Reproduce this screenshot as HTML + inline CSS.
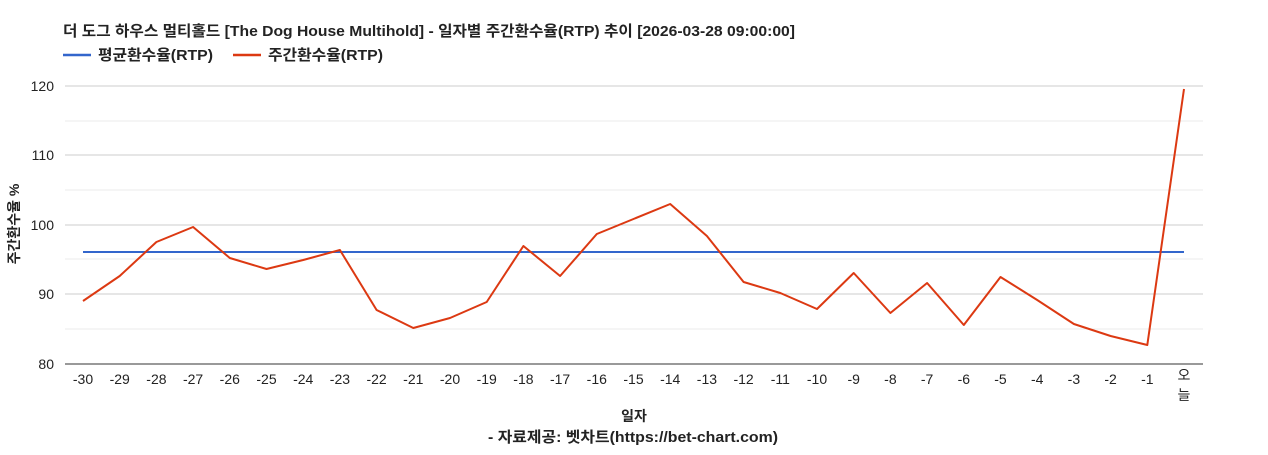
<!DOCTYPE html>
<html><head><meta charset="utf-8"><style>
body{margin:0;background:#fff;}
svg text{font-family:"Liberation Sans","Noto Sans CJK KR",sans-serif;}
</style></head><body>
<svg width="1268" height="450" xmlns="http://www.w3.org/2000/svg">
<rect width="1268" height="450" fill="#fff"/>
<text x="63" y="36" font-size="15" font-weight="bold" fill="#222" textLength="732" lengthAdjust="spacingAndGlyphs">더 도그 하우스 멀티홀드 [The Dog House Multihold] - 일자별 주간환수율(RTP) 추이 [2026-03-28 09:00:00]</text>
<line x1="63" y1="55" x2="91" y2="55" stroke="#3366cc" stroke-width="2.5"/>
<text x="98" y="60" font-size="15" font-weight="bold" fill="#222" textLength="115" lengthAdjust="spacingAndGlyphs">평균환수율(RTP)</text>
<line x1="233" y1="55" x2="261" y2="55" stroke="#dc3912" stroke-width="2.5"/>
<text x="268" y="60" font-size="15" font-weight="bold" fill="#222" textLength="115" lengthAdjust="spacingAndGlyphs">주간환수율(RTP)</text>
<g stroke="#ebebeb" stroke-width="1">
<line x1="65" y1="121" x2="1203" y2="121"/><line x1="65" y1="190" x2="1203" y2="190"/><line x1="65" y1="259" x2="1203" y2="259"/><line x1="65" y1="329" x2="1203" y2="329"/>
</g>
<g stroke="#cccccc" stroke-width="1">
<line x1="65" y1="86" x2="1203" y2="86"/><line x1="65" y1="155" x2="1203" y2="155"/><line x1="65" y1="225" x2="1203" y2="225"/><line x1="65" y1="294" x2="1203" y2="294"/>
</g>
<line x1="65" y1="364" x2="1203" y2="364" stroke="#333" stroke-width="1"/>
<g font-size="14" fill="#222" text-anchor="end">
<text x="54" y="91">120</text><text x="54" y="160">110</text><text x="54" y="230">100</text><text x="54" y="299">90</text><text x="54" y="369">80</text>
</g>
<text transform="translate(19,224) rotate(-90)" font-size="14" font-weight="bold" fill="#222" text-anchor="middle">주간환수율 %</text>
<g font-size="14" fill="#222" text-anchor="middle">
<text x="83" y="384">-30</text><text x="119.7" y="384">-29</text><text x="156.4" y="384">-28</text><text x="193.1" y="384">-27</text><text x="229.8" y="384">-26</text><text x="266.5" y="384">-25</text><text x="303.2" y="384">-24</text><text x="339.9" y="384">-23</text><text x="376.6" y="384">-22</text><text x="413.3" y="384">-21</text><text x="450" y="384">-20</text><text x="486.7" y="384">-19</text><text x="523.4" y="384">-18</text><text x="560.1" y="384">-17</text><text x="596.8" y="384">-16</text><text x="633.5" y="384">-15</text><text x="670.2" y="384">-14</text><text x="706.9" y="384">-13</text><text x="743.6" y="384">-12</text><text x="780.3" y="384">-11</text><text x="817" y="384">-10</text><text x="853.7" y="384">-9</text><text x="890.4" y="384">-8</text><text x="927.1" y="384">-7</text><text x="963.8" y="384">-6</text><text x="1000.5" y="384">-5</text><text x="1037.2" y="384">-4</text><text x="1073.9" y="384">-3</text><text x="1110.6" y="384">-2</text><text x="1147.3" y="384">-1</text>
<text x="1184" y="380">오</text><text x="1184" y="400">늘</text>
</g>
<text x="634" y="421" font-size="14" font-weight="bold" fill="#222" text-anchor="middle">일자</text>
<text x="488" y="442" font-size="15" font-weight="bold" fill="#222" textLength="290" lengthAdjust="spacingAndGlyphs">- 자료제공: 벳차트(https://bet-chart.com)</text>
<line x1="83" y1="252" x2="1184" y2="252" stroke="#3366cc" stroke-width="2"/>
<polyline fill="none" stroke="#dc3912" stroke-width="2" stroke-linejoin="round" points="83,301 119.7,276 156.4,242 193.1,227 229.8,258 266.5,269 303.2,260 339.9,250 376.6,310 413.3,328 450,318 486.7,302 523.4,246 560.1,276 596.8,234 633.5,219 670.2,204 706.9,236 743.6,282 780.3,293 817,309 853.7,273 890.4,313 927.1,283 963.8,325 1000.5,277 1037.2,300 1073.9,324 1110.6,336 1147.3,345 1184,89"/>
</svg>
</body></html>
